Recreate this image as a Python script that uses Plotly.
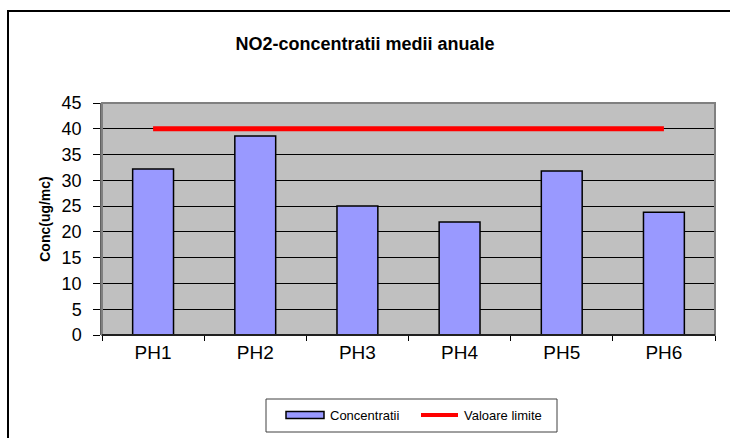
import plotly.graph_objects as go

categories = ["PH1", "PH2", "PH3", "PH4", "PH5", "PH6"]
concentratii = [32.2, 38.6, 25.0, 21.9, 31.8, 23.8]
valoare_limite = [40, 40, 40, 40, 40, 40]
y_ticks = [0, 5, 10, 15, 20, 25, 30, 35, 40, 45]

FONT = "Arial, Liberation Sans, sans-serif"
BAR_COLOR = "#9999FF"
LINE_COLOR = "#FF0000"

fig = go.Figure()
fig.add_trace(go.Bar(
    x=categories, y=concentratii, name="Concentratii", width=0.4,
    marker=dict(color=BAR_COLOR, line=dict(color="black", width=1.5)),
))
fig.add_trace(go.Scatter(
    x=categories, y=valoare_limite, name="Valoare limite", mode="lines",
    line=dict(color=LINE_COLOR, width=5),
))

W, H = 730, 438
L, R, T, B = 102, 15, 103, 103
pw, ph = W - L - R, H - T - B

def px_x(x):
    return (x - L) / pw

def px_y(y):
    return (H - B - y) / ph

shapes = [
    # outer frame
    dict(type="rect", xref="paper", yref="paper", x0=px_x(8), x1=px_x(745), y0=px_y(460), y1=px_y(11),
         line=dict(color="black", width=2), fillcolor="rgba(0,0,0,0)", layer="below"),
    # plot area border
    dict(type="rect", xref="paper", yref="paper", x0=0, x1=1, y0=0, y1=1,
         line=dict(color="#808080", width=2), fillcolor="rgba(0,0,0,0)", layer="above"),
    # bottom axis line
    dict(type="line", xref="paper", yref="paper", x0=0, x1=1, y0=0, y1=0,
         line=dict(color="black", width=1.5), layer="above"),
    # legend box
    dict(type="rect", xref="paper", yref="paper", x0=px_x(266), x1=px_x(557), y0=px_y(432), y1=px_y(399),
         line=dict(color="#404040", width=1), fillcolor="white", layer="below"),
    # legend swatch: bars
    dict(type="rect", xref="paper", yref="paper", x0=px_x(286), x1=px_x(324), y0=px_y(418.5), y1=px_y(411.5),
         line=dict(color="black", width=1.5), fillcolor=BAR_COLOR, layer="above"),
    # legend swatch: line
    dict(type="line", xref="paper", yref="paper", x0=px_x(421), x1=px_x(458), y0=px_y(415), y1=px_y(415),
         line=dict(color=LINE_COLOR, width=4), layer="above"),
]

annotations = [
    dict(text="Concentratii", xref="paper", yref="paper", x=px_x(328), y=px_y(415),
         xanchor="left", yanchor="middle", showarrow=False, font=dict(size=13, family=FONT)),
    dict(text="Valoare limite", xref="paper", yref="paper", x=px_x(462), y=px_y(415),
         xanchor="left", yanchor="middle", showarrow=False, font=dict(size=13, family=FONT)),
]

fig.update_layout(
    width=W, height=H,
    margin=dict(l=L, r=R, t=T, b=B),
    paper_bgcolor="white", plot_bgcolor="#C0C0C0",
    font=dict(family=FONT, color="black"),
    title=dict(text="<b>NO2-concentratii medii anuale</b>", xref="container", x=365 / W, xanchor="center",
               yref="container", y=1 - 44 / H, yanchor="middle", font=dict(size=18, family=FONT)),
    showlegend=False,
    bargap=0.6,
    xaxis=dict(type="category", tickson="boundaries", ticks="outside", ticklen=5, tickcolor="black",
               showline=False, showgrid=False, tickfont=dict(size=19, family=FONT), zeroline=False,
               ticklabelstandoff=4),
    yaxis=dict(range=[0, 45], tickvals=y_ticks, ticks="outside", ticklen=7, tickcolor="black",
               showline=True, linecolor="#606060", linewidth=1.5,
               showgrid=True, gridcolor="black", gridwidth=1, zeroline=False,
               tickfont=dict(size=18, family=FONT), ticklabelstandoff=8,
               title=dict(text="<b>Conc(ug/mc)</b>", font=dict(size=14, family=FONT), standoff=8)),
    shapes=shapes,
    annotations=annotations,
)

fig.write_html("out.html", post_script="document.body.style.margin='0';",
               config={"displayModeBar": False})
